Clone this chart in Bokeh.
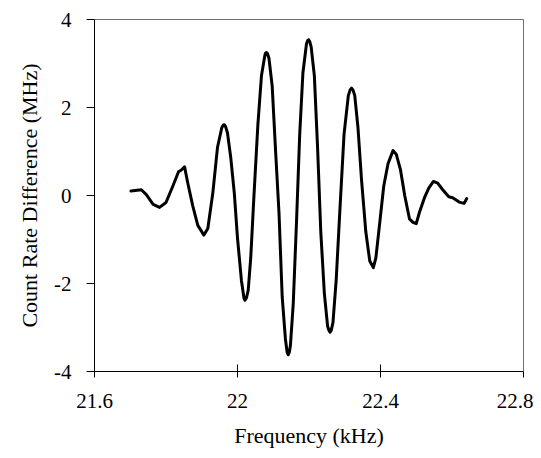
from bokeh.plotting import figure
from bokeh.models import FixedTicker, Range1d, LinearAxis
from bokeh.embed import file_html
from bokeh.resources import INLINE

freq = [21.702, 21.731, 21.745, 21.764, 21.782, 21.800, 21.819, 21.835, 21.843, 21.852,
        21.861, 21.875, 21.889, 21.906, 21.917, 21.931, 21.944, 21.956, 21.960, 21.963, 21.967, 21.972,
        21.981, 21.991, 22.000, 22.011, 22.018, 22.021, 22.025, 22.030, 22.037, 22.046, 22.057, 22.067,
        22.076, 22.078, 22.081, 22.084, 22.088, 22.097, 22.106, 22.116, 22.125, 22.134, 22.139, 22.142, 22.145, 22.148,
        22.156, 22.165, 22.174, 22.183, 22.193, 22.196, 22.199, 22.202, 22.206, 22.215, 22.224, 22.233,
        22.243, 22.252, 22.256, 22.259, 22.262, 22.267, 22.276, 22.287, 22.298, 22.310, 22.315, 22.319, 22.323, 22.328,
        22.337, 22.347, 22.359, 22.370, 22.380, 22.387, 22.398, 22.409, 22.421, 22.435,
        22.444, 22.456, 22.468, 22.481, 22.491, 22.500, 22.509, 22.523, 22.535, 22.548,
        22.560, 22.574, 22.591, 22.602, 22.620, 22.634, 22.641]
diff = [0.10, 0.13, 0.02, -0.20, -0.27, -0.16, 0.21, 0.54, 0.58, 0.65,
        0.28, -0.24, -0.68, -0.90, -0.75, 0.06, 1.09, 1.54, 1.60, 1.61, 1.56, 1.42,
        0.87, 0.06, -0.97, -1.93, -2.33, -2.38, -2.33, -2.15, -1.42, -0.01, 1.61, 2.72,
        3.16, 3.23, 3.25, 3.22, 3.12, 2.49, 1.09, -0.38, -2.30, -3.26, -3.57, -3.62, -3.56, -3.41,
        -2.45, -0.61, 1.39, 2.79, 3.45, 3.52, 3.54, 3.50, 3.38, 2.72, 1.09, -0.83,
        -2.23, -2.97, -3.07, -3.11, -3.07, -2.89, -1.93, -0.24, 1.39, 2.27, 2.40, 2.44, 2.40, 2.27,
        1.54, 0.35, -0.83, -1.49, -1.64, -1.42, -0.61, 0.21, 0.72, 1.02,
        0.94, 0.58, -0.01, -0.53, -0.61, -0.64, -0.38, -0.05, 0.17, 0.32,
        0.28, 0.13, -0.03, -0.05, -0.15, -0.18, -0.07]

x_ticks = [21.6, 22.0, 22.4, 22.8]
x_tick_labels = ["21.6", "22", "22.4", "22.8"]
y_ticks = [-4, -2, 0, 2, 4]
y_tick_labels = ["-4", "-2", "0", "2", "4"]

p = figure(width=533, height=450, output_backend="svg", toolbar_location=None,
           x_range=Range1d(21.6, 22.8), y_range=Range1d(-4, 4),
           min_border_left=94, min_border_right=10, min_border_top=19, min_border_bottom=71)

p.line(freq, diff, line_color="black", line_width=3, line_join="round", line_cap="round")

p.xgrid.visible = False
p.ygrid.visible = False
p.outline_line_color = None

xa = p.below[0]
ya = p.left[0]

font = "'Liberation Serif'"
xa.ticker = FixedTicker(ticks=x_ticks)
xa.major_label_overrides = dict(zip(x_ticks, x_tick_labels))
ya.ticker = FixedTicker(ticks=y_ticks)
ya.major_label_overrides = dict(zip(y_ticks, y_tick_labels))

xa.axis_label = "Frequency (kHz)"
ya.axis_label = "Count Rate Difference (MHz)"

for ax in (xa, ya):
    ax.axis_line_color = "black"
    ax.axis_line_width = 1
    ax.major_tick_line_color = "black"
    ax.minor_tick_line_color = None
    ax.major_label_text_font = font
    ax.major_label_text_font_size = "21px"
    ax.major_label_text_color = "black"
    ax.axis_label_text_font = font
    ax.axis_label_text_font_size = "22px"
    ax.axis_label_text_font_style = "normal"
    ax.axis_label_text_color = "black"

xa.major_tick_in = 7
xa.major_tick_out = 6
xa.major_label_standoff = 16
xa.axis_label_standoff = 12

ya.major_tick_in = 0
ya.major_tick_out = 8
ya.major_label_standoff = 15
ya.axis_label_standoff = 9

# thin grey frame lines on top and right (axes with hidden ticks/labels)
top_ax = LinearAxis(ticker=FixedTicker(ticks=x_ticks), axis_line_color="#6e6e6e", axis_line_width=1,
                    major_tick_line_color=None, minor_tick_line_color=None,
                    major_tick_in=0, major_tick_out=0, major_label_standoff=0,
                    major_label_text_font_size="1px", major_label_text_color=None)
right_ax = LinearAxis(ticker=FixedTicker(ticks=y_ticks), axis_line_color="#6e6e6e", axis_line_width=1,
                      major_tick_line_color=None, minor_tick_line_color=None,
                      major_tick_in=0, major_tick_out=0, major_label_standoff=0,
                      major_label_text_font_size="1px", major_label_text_color=None)
p.add_layout(top_ax, "above")
p.add_layout(right_ax, "right")

open("out.html", "w").write(file_html(p, INLINE))
